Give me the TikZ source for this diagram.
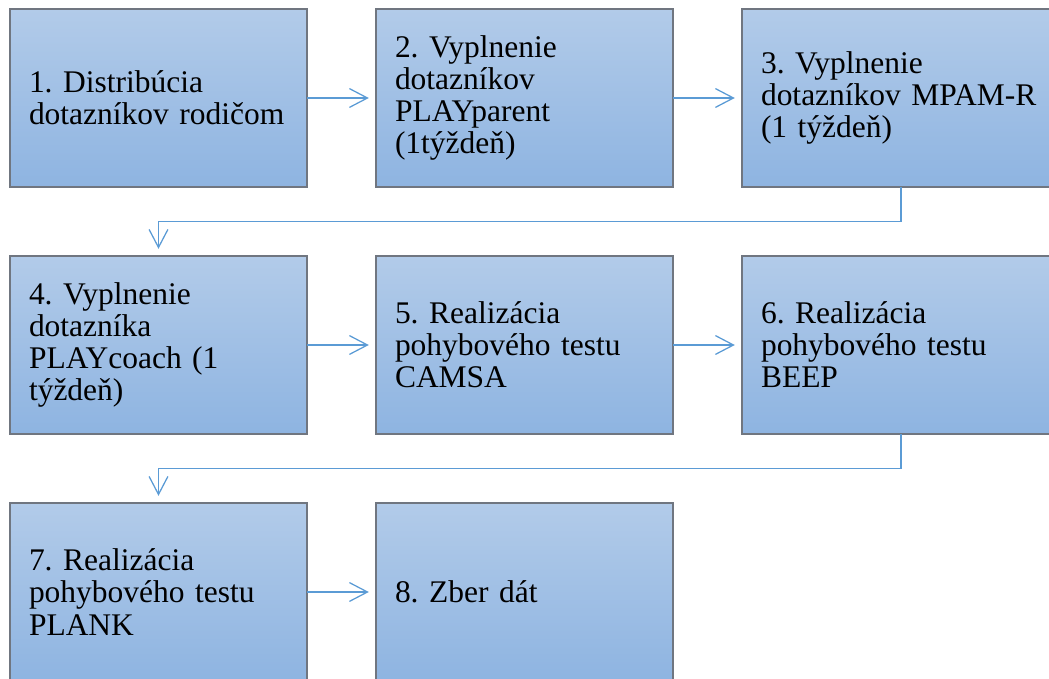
\documentclass[tikz,border=0pt]{standalone}
\usepackage{fontspec}
\setmainfont{Liberation Serif}
\frenchspacing
\usetikzlibrary{arrows.meta, positioning}
\definecolor{boxtop}{RGB}{178,203,233}
\definecolor{boxbottom}{RGB}{142,180,225}
\definecolor{boxline}{RGB}{112,118,128}
\definecolor{flowblue}{RGB}{91,155,213}
\tikzset{>={Straight Barb[length=0.45cm,width=0.47cm]}}
\tikzset{
    stepbox/.style={draw=boxline, line width=0.9pt, top color=boxtop, bottom color=boxbottom,
        text width=6.475cm, inner xsep=0.475cm, minimum height=4.45cm, align=left, outer sep=0pt,
        font=\fontsize{22.4}{22.8}\selectfont},
    widebox/.style={stepbox, text width=7cm},
    flow/.style={->, draw=flowblue, line width=0.9pt, shorten >=0.18cm}
}

\begin{document}
\begin{tikzpicture}[node distance=1.725cm]
    \clip (0,0) rectangle (26.225,-16.975);
    % row 1
    \node [stepbox, anchor=north west] (b1) at (0.25,-0.225) {1. Distribúcia\\dotazníkov rodičom};
    \node [stepbox, right=of b1] (b2) {2. Vyplnenie\\dotazníkov\\PLAYparent\\(1týždeň)};
    \node [widebox, right=of b2] (b3) {3. Vyplnenie\\dotazníkov MPAM-R\\(1 týždeň)};
    % row 2
    \node [stepbox, below=of b1] (b4) {4. Vyplnenie\\dotazníka\\PLAYcoach (1\\týždeň)};
    \node [stepbox, right=of b4] (b5) {5. Realizácia\\pohybového testu\\CAMSA};
    \node [widebox, right=of b5] (b6) {6. Realizácia\\pohybového testu\\BEEP};
    % row 3
    \node [stepbox, below=of b4] (b7) {7. Realizácia\\pohybového testu\\PLANK};
    \node [stepbox, right=of b7] (b8) {8. Zber dát};
    % connectors
    \draw [flow] (b1) -- (b2);
    \draw [flow] (b2) -- (b3);
    \draw [flow] (b3.south) -- ++(0,-0.86) -| (b4.north);
    \draw [flow] (b4) -- (b5);
    \draw [flow] (b5) -- (b6);
    \draw [flow] (b6.south) -- ++(0,-0.86) -| (b7.north);
    \draw [flow] (b7) -- (b8);
\end{tikzpicture}
\end{document}
